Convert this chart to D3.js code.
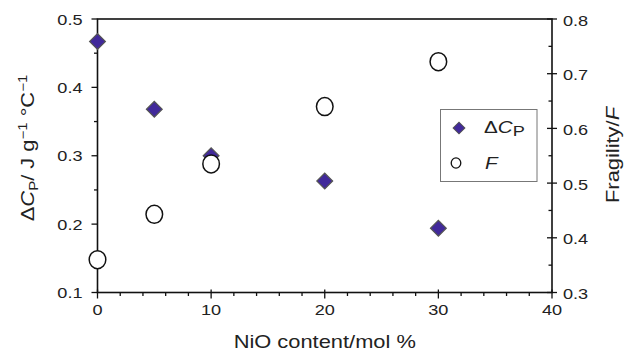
<!DOCTYPE html>
<html><head><meta charset="utf-8">
<script src="https://cdn.jsdelivr.net/npm/d3@7"></script>
<style>
body{margin:0;background:#fff;}
text{font-family:"Liberation Sans",Arial,Helvetica,sans-serif;fill:#222;}
</style></head>
<body>
<svg id="chart" width="625" height="357"></svg>
<script>
// Data
const nioContent = [0, 5, 10, 20, 30];
const deltaCp = [0.467, 0.368, 0.300, 0.263, 0.194];
const fragility = [0.360, 0.443, 0.535, 0.640, 0.722];
const xTicks = [0, 10, 20, 30, 40];
const yLeftTicks = [0.1, 0.2, 0.3, 0.4, 0.5];
const yRightTicks = [0.3, 0.4, 0.5, 0.6, 0.7, 0.8];

const svg = d3.select("#chart");
const L = 97.5, R = 552, T = 19, B = 292.5;
const SX = 1.25; // horizontal glyph stretch

const x = d3.scaleLinear().domain([0, 40]).range([L, R]);
const yL = d3.scaleLinear().domain([0.1, 0.5]).range([B, T]);
const yR = d3.scaleLinear().domain([0.3, 0.8]).range([B, T]);

function txt(g, xp, yp, s, size, anchor, rot) {
  const t = g.append("text")
    .attr("transform", `translate(${xp},${yp})` + (rot ? ` rotate(${rot})` : "") + ` scale(${SX},1)`)
    .attr("font-size", size).attr("text-anchor", anchor || "start");
  if (s !== null) t.text(s);
  return t;
}

// minor ticks
const ax = svg.append("g").attr("stroke", "#111").attr("stroke-width", 1.3);
d3.range(0, 41, 2).filter(v => v % 10 !== 0).forEach(v => {
  ax.append("line").attr("x1", x(v)).attr("x2", x(v)).attr("y1", B).attr("y2", B + 3.5);
});
d3.range(0.15, 0.5, 0.1).forEach(v => {
  ax.append("line").attr("x1", L - 3.5).attr("x2", L).attr("y1", yL(v)).attr("y2", yL(v));
});
d3.range(0.35, 0.8, 0.1).forEach(v => {
  ax.append("line").attr("x1", R - 3.5).attr("x2", R).attr("y1", yR(v)).attr("y2", yR(v));
});
// major ticks
xTicks.forEach(v => ax.append("line").attr("x1", x(v)).attr("x2", x(v)).attr("y1", B - 3).attr("y2", B + 6));
yLeftTicks.forEach(v => ax.append("line").attr("x1", L - 6).attr("x2", L).attr("y1", yL(v)).attr("y2", yL(v)));
yRightTicks.forEach(v => ax.append("line").attr("x1", R - 5).attr("x2", R + 5).attr("y1", yR(v)).attr("y2", yR(v)));

// frame
svg.append("rect").attr("x", L).attr("y", T).attr("width", R - L).attr("height", B - T)
  .attr("fill", "none").attr("stroke", "#111").attr("stroke-width", 1.6);

// tick labels
const lab = svg.append("g");
xTicks.forEach(v => txt(lab, x(v), 315, String(v), 14.5, "middle"));
yLeftTicks.forEach(v => txt(lab, 82.5, yL(v) + 5.5, v.toFixed(1), 14.5, "end"));
yRightTicks.forEach(v => txt(lab, 563, yR(v) + 6.5, v.toFixed(1), 14.5, "start"));

// axis titles
txt(lab, (L + R) / 2, 348, "NiO content/mol %", 17.5, "middle");
const lt = txt(lab, 34, 148, null, 17.5, "middle", -90);
lt.append("tspan").text("\u0394");
lt.append("tspan").attr("font-style", "italic").text("C");
lt.append("tspan").attr("font-size", 12).attr("dy", 4).text("P");
lt.append("tspan").attr("dy", -4).text("/ J g");
lt.append("tspan").attr("font-size", 12).attr("dy", -7).text("\u22121");
lt.append("tspan").attr("dy", 7).text(" \u00B0C");
lt.append("tspan").attr("font-size", 12).attr("dy", -7).text("\u22121");
const rt = txt(lab, 619, 155, null, 17.5, "middle", -90);
rt.append("tspan").text("Fragility/");
rt.append("tspan").attr("font-style", "italic").text("F");

// marks
const diamond = d3.symbol().type(d3.symbolSquare).size(125);
const data = nioContent.map((c, i) => ({c, cp: deltaCp[i], f: fragility[i]}));
svg.append("g").selectAll("path").data(data).join("path")
  .attr("d", diamond)
  .attr("transform", d => `translate(${x(d.c)},${yL(d.cp)}) rotate(45)`)
  .attr("fill", "#41299a").attr("stroke", "#555").attr("stroke-width", 1.2);
svg.append("g").selectAll("ellipse").data(data).join("ellipse")
  .attr("cx", d => x(d.c)).attr("cy", d => yR(d.f)).attr("rx", 8.3).attr("ry", 9)
  .attr("fill", "#fff").attr("stroke", "#111").attr("stroke-width", 1.5);

// legend
const lg = svg.append("g");
lg.append("rect").attr("x", 440.5).attr("y", 109.5).attr("width", 96.5).attr("height", 72)
  .attr("fill", "#fff").attr("stroke", "#777").attr("stroke-width", 1);
lg.append("path").attr("d", d3.symbol().type(d3.symbolSquare).size(70))
  .attr("transform", "translate(459,128) rotate(45)")
  .attr("fill", "#41299a").attr("stroke", "#555").attr("stroke-width", 1);
lg.append("ellipse").attr("cx", 456).attr("cy", 163).attr("rx", 4.8).attr("ry", 5.2)
  .attr("fill", "#fff").attr("stroke", "#111").attr("stroke-width", 1.3);
const l1 = txt(lg, 484, 133, null, 16.5, "start");
l1.append("tspan").text("\u0394");
l1.append("tspan").attr("font-style", "italic").text("C");
l1.append("tspan").attr("font-size", 14.5).attr("dy", 3).text("P");
const l2 = txt(lg, 485, 169, null, 16.5, "start");
l2.append("tspan").attr("font-style", "italic").text("F");
</script>
</body></html>
